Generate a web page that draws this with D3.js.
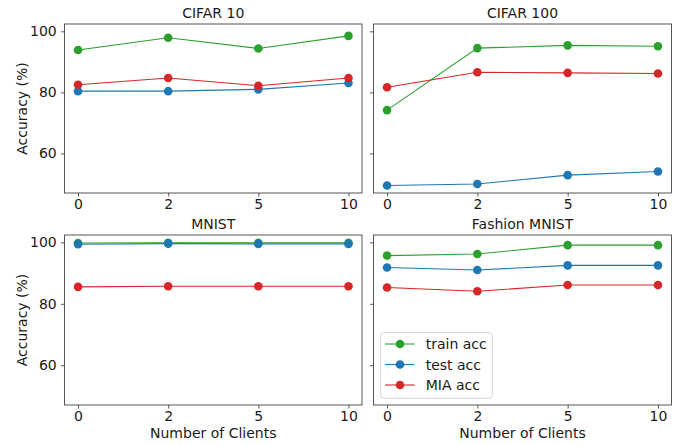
<!DOCTYPE html>
<html><head><meta charset="utf-8">
<script src="https://cdn.jsdelivr.net/npm/d3@7"></script>
<style>
html,body{margin:0;padding:0;background:#fff;}
svg{display:block;font-family:"DejaVu Sans",sans-serif;}
</style></head>
<body>
<svg id="c" width="683" height="445"></svg>
<script>
const clients = ["0", "2", "5", "10"];
const panelTitles = ["CIFAR 10", "CIFAR 100", "MNIST", "Fashion MNIST"];
const seriesNames = ["train acc", "test acc", "MIA acc"];
const seriesColors = ["#2ca02c", "#1f77b4", "#d62728"];
const yTicks = [60, 80, 100];

const cifar10Train = [93.9, 97.9, 94.4, 98.5];
const cifar10Test  = [80.4, 80.4, 81.0, 83.1];
const cifar10MIA   = [82.5, 84.7, 82.2, 84.7];

const cifar100Train = [74.2, 94.5, 95.4, 95.1];
const cifar100Test  = [49.5, 50.0, 52.9, 54.1];
const cifar100MIA   = [81.7, 86.6, 86.4, 86.2];

const mnistTrain = [99.8, 99.9, 99.9, 99.9];
const mnistTest  = [99.4, 99.6, 99.5, 99.5];
const mnistMIA   = [85.5, 85.7, 85.7, 85.7];

const fashionTrain = [95.7, 96.2, 99.1, 99.1];
const fashionTest  = [91.8, 91.0, 92.5, 92.5];
const fashionMIA   = [85.3, 84.1, 86.1, 86.1];

const panelData = [
  [cifar10Train, cifar10Test, cifar10MIA],
  [cifar100Train, cifar100Test, cifar100MIA],
  [mnistTrain, mnistTest, mnistMIA],
  [fashionTrain, fashionTest, fashionMIA]
];

const svg = d3.select("#c");
const yDomain = [47.05, 102.4];
const cols = [[64.5, 362], [373.5, 671.5]];
const rows = [[24, 193], [235, 405]];
const axisColor = "#444";
const textColor = "#1a1a1a";
const fs = "14px";

panelData.forEach((series, i) => {
  const r = Math.floor(i / 2), c = i % 2;
  const [x0, x1] = cols[c], [y0, y1] = rows[r];
  const xIdx = d3.scaleLinear().domain([-0.15, 3.15]).range([x0, x1]);
  const x = d => xIdx(clients.indexOf(d));
  const y = d3.scaleLinear().domain(yDomain).range([y1, y0]);
  const g = svg.append("g");

  // axes
  const xAxis = d3.axisBottom(d3.scalePoint().domain(clients).range([xIdx(0), xIdx(3)])).tickSize(3.5).tickPadding(2.5);
  const gx = g.append("g").attr("transform", `translate(0,${y1})`).call(xAxis);
  const yAxis = d3.axisLeft(y).tickValues(yTicks).tickSize(3.5).tickPadding(4.3)
      .tickFormat(c === 0 ? d3.format("d") : () => "");
  const gy = g.append("g").attr("transform", `translate(${x0},0)`).call(yAxis);
  [gx, gy].forEach(a => {
    a.attr("font-size", null).attr("font-family", null);
    a.select(".domain").remove();
    a.selectAll("line").attr("stroke", axisColor).attr("stroke-width", 0.9);
    a.selectAll("text").attr("fill", textColor).style("font-size", fs)
      .style("font-family", "DejaVu Sans, sans-serif");
  });

  // lines and markers
  series.forEach((vals, s) => {
    const pts = clients.map((cl, k) => [x(cl), y(vals[k])]);
    g.append("path").attr("d", d3.line()(pts)).attr("fill", "none")
      .attr("stroke", seriesColors[s]).attr("stroke-width", 1.1);
    g.selectAll(null).data(pts).enter().append("circle")
      .attr("cx", p => p[0]).attr("cy", p => p[1]).attr("r", 4.3)
      .attr("fill", seriesColors[s]);
  });

  // frame
  g.append("rect").attr("x", x0).attr("y", y0).attr("width", x1 - x0).attr("height", y1 - y0)
    .attr("fill", "none").attr("stroke", axisColor).attr("stroke-width", 0.9);

  // title
  g.append("text").attr("x", (x0 + x1) / 2).attr("y", y0 - 5.7).attr("text-anchor", "middle")
    .attr("fill", textColor).style("font-size", fs).text(panelTitles[i]);

  if (c === 0) {
    g.append("text").attr("transform", `translate(26.5,${(y0 + y1) / 2}) rotate(-90)`)
      .attr("text-anchor", "middle").attr("fill", textColor).style("font-size", fs)
      .text("Accuracy (%)");
  }
  if (r === 1) {
    g.append("text").attr("x", (x0 + x1) / 2).attr("y", 438).attr("text-anchor", "middle")
      .attr("fill", textColor).style("font-size", fs).text("Number of Clients");
  }
  if (i === 3) {
    const lg = g.append("g");
    lg.append("rect").attr("x", 380.7).attr("y", 332.7).attr("width", 111.6).attr("height", 65.6)
      .attr("rx", 3).attr("fill", "#fff").attr("fill-opacity", 0.8).attr("stroke", "#d0d0d0").attr("stroke-width", 0.9);
    seriesNames.forEach((nm, s) => {
      const ly = 344 + s * 20.5;
      lg.append("line").attr("x1", 385).attr("x2", 414.5).attr("y1", ly).attr("y2", ly)
        .attr("stroke", seriesColors[s]).attr("stroke-width", 1.1);
      lg.append("circle").attr("cx", 400).attr("cy", ly).attr("r", 4.3).attr("fill", seriesColors[s]);
      lg.append("text").attr("x", 425.7).attr("y", ly + 5).attr("fill", textColor)
        .style("font-size", fs).text(nm);
    });
  }
});
</script>
</body></html>
